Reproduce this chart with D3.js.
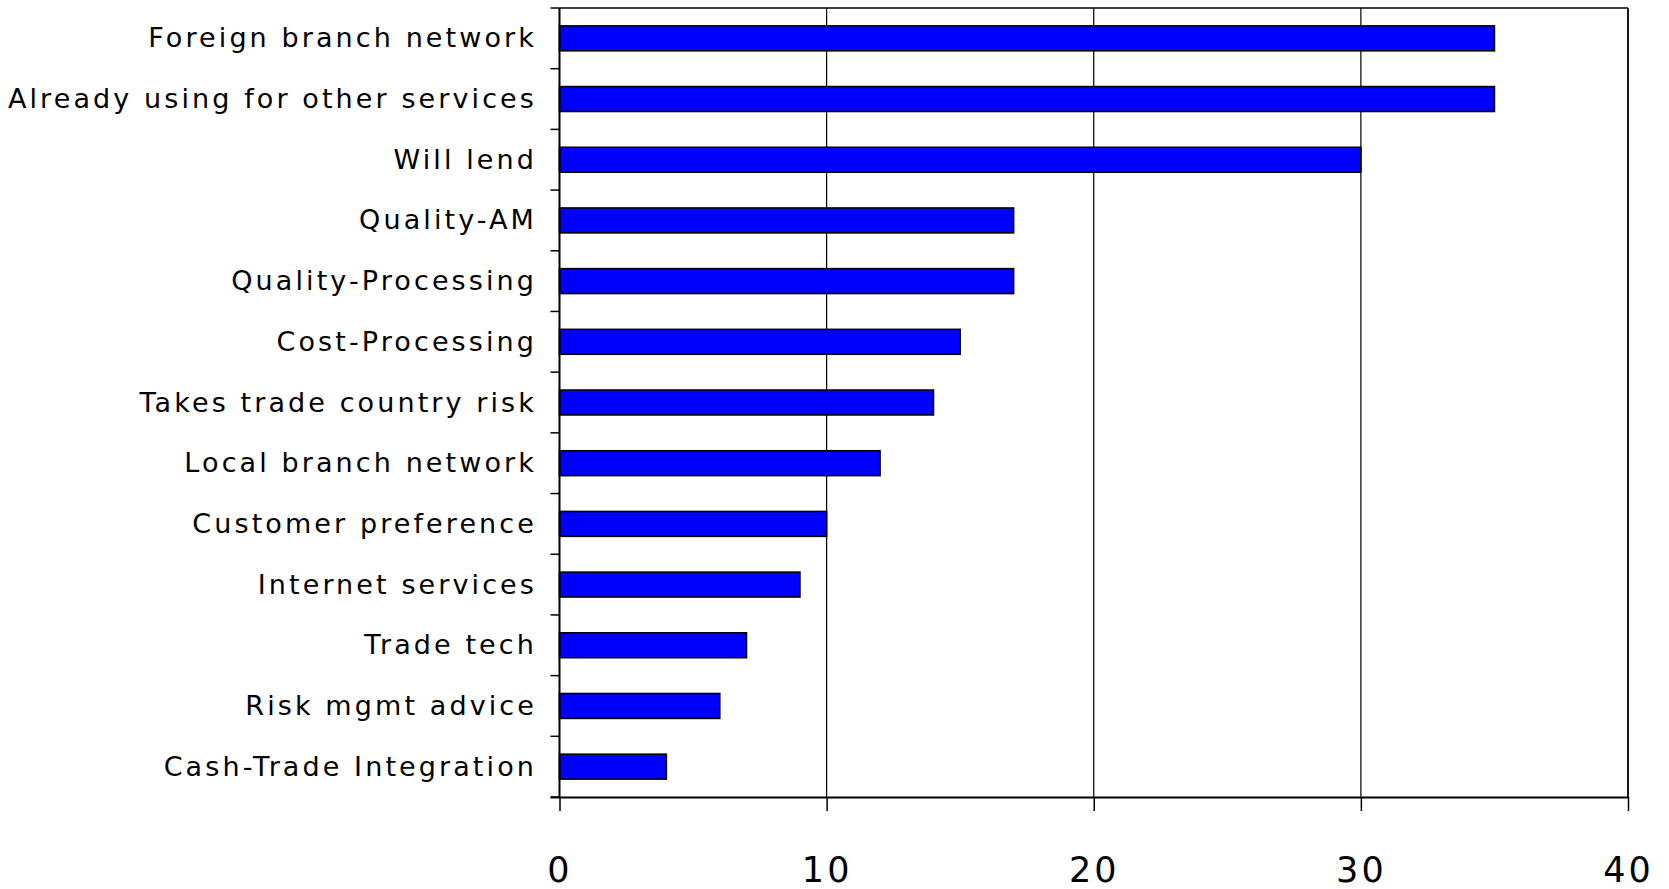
<!DOCTYPE html>
<html>
<head>
<meta charset="utf-8">
<script src="https://cdn.jsdelivr.net/npm/d3@7"></script>
<style>
  html, body { margin: 0; padding: 0; background: #fff; }
  svg { display: block; }
</style>
</head>
<body>
<svg id="chart" width="1669" height="889"></svg>
<script>
const categories = [
  "Foreign branch network",
  "Already using for other services",
  "Will lend",
  "Quality-AM",
  "Quality-Processing",
  "Cost-Processing",
  "Takes trade country risk",
  "Local branch network",
  "Customer preference",
  "Internet services",
  "Trade tech",
  "Risk mgmt advice",
  "Cash-Trade Integration"
];
const values = [35, 35, 30, 17, 17, 15, 14, 12, 10, 9, 7, 6, 4];
const xTicks = [0, 10, 20, 30, 40];

(function () {
const svg = d3.select("#chart");
const pLeft = 559.5, pRight = 1628, pTop = 8, pBottom = 797;

const x = d3.scaleLinear().domain([0, 40]).range([pLeft, pRight]);
const y = d3.scaleBand().domain(categories).range([pTop, pBottom]).paddingInner(0.59).paddingOuter(0.295);
const yb = d3.scaleBand().domain(categories).range([pTop, pBottom]);

// gridlines
svg.append("g").selectAll("line").data(xTicks.filter(d => d > 0 && d < 40)).join("line")
  .attr("x1", d => x(d)).attr("x2", d => x(d))
  .attr("y1", pTop).attr("y2", pBottom)
  .attr("stroke", "#000").attr("stroke-width", 1.2);

// top and right border
svg.append("line").attr("x1", pLeft).attr("x2", pRight).attr("y1", pTop).attr("y2", pTop)
  .attr("stroke", "#000").attr("stroke-width", 1.5);
svg.append("line").attr("x1", pRight).attr("x2", pRight).attr("y1", pTop).attr("y2", pBottom)
  .attr("stroke", "#000").attr("stroke-width", 1.8);

// bars
svg.append("g").selectAll("rect").data(categories).join("rect")
  .attr("x", x(0))
  .attr("y", d => y(d))
  .attr("width", (d, i) => x(values[i]) - x(0))
  .attr("height", y.bandwidth())
  .attr("fill", "#0000ff")
  .attr("stroke", "#000")
  .attr("stroke-width", 1.6);

// y axis with boundary ticks
const boundaries = categories.map(c => yb(c)).concat([pBottom]);
svg.append("g").selectAll("line").data(boundaries).join("line")
  .attr("x1", pLeft - 9).attr("x2", pLeft)
  .attr("y1", d => d).attr("y2", d => d)
  .attr("stroke", "#000").attr("stroke-width", 1.5);
svg.append("line").attr("x1", pLeft).attr("x2", pLeft).attr("y1", pTop).attr("y2", pBottom)
  .attr("stroke", "#000").attr("stroke-width", 2);

// category labels
svg.append("g").selectAll("text").data(categories).join("text")
  .attr("x", 537)
  .attr("y", d => yb(d) + yb.bandwidth() / 2 + 9)
  .attr("text-anchor", "end")
  .attr("font-family", "DejaVu Sans, Verdana, sans-serif")
  .attr("font-size", 27)
  .attr("letter-spacing", 3.1)
  .attr("fill", "#000")
  .text(d => d);

// x axis
const xAxis = d3.axisBottom(x).tickValues(xTicks).tickSize(14).tickPadding(0).tickFormat(d3.format("d"));
const gx = svg.append("g").attr("transform", `translate(0,${pBottom})`).call(xAxis);
gx.select(".domain").attr("d", `M${pLeft - 9},0.5H${pRight}`).attr("stroke", "#000").attr("stroke-width", 1.8);
gx.selectAll(".tick line").attr("stroke", "#000").attr("stroke-width", 1.5);
gx.selectAll(".tick text")
  .attr("y", 85).attr("dy", null)
  .attr("font-family", "DejaVu Sans, Verdana, sans-serif")
  .attr("font-size", 35)
  .attr("letter-spacing", 3)
  .attr("fill", "#000");
})();
</script>
</body>
</html>
